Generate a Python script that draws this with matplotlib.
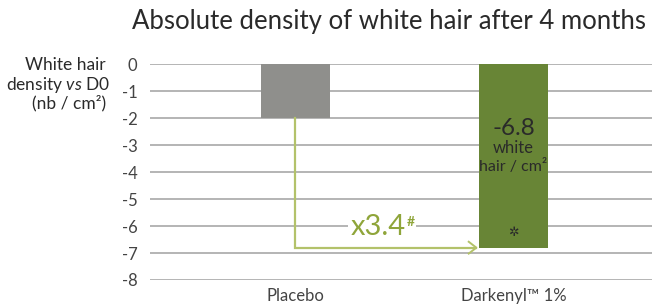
import matplotlib
matplotlib.use("Agg")
import matplotlib.pyplot as plt

categories = ["Placebo", "Darkenyl\u2122 1%"]
values = [-2.0, -6.8]
bar_colors = ["#8f8f8c", "#688536"]
yticks = [0, -1, -2, -3, -4, -5, -6, -7, -8]
ratio_label = "x3.4"

plt.rcParams['font.family'] = ['Lato', 'DejaVu Sans']
plt.rcParams['mathtext.fontset'] = 'custom'
plt.rcParams['mathtext.it'] = 'Lato:italic'
plt.rcParams['mathtext.rm'] = 'Lato'

fig = plt.figure(figsize=(6.52, 3.06), dpi=100)
ax = fig.add_axes([150/652, 26/306, 502/652, (280-64.5)/306])

x = list(range(len(categories)))
width = 0.317
ax.bar(x, values, width=width, color=bar_colors, zorder=3, align='center')

ax.set_ylim(-8, 0)
ax.set_xlim(-0.667, 1.635)
ax.set_yticks(yticks)
ax.set_yticklabels([str(v) for v in yticks], fontsize=12, color='#444444')
ax.set_xticks(x)
ax.set_xticklabels(categories, fontsize=12, color='#444444')
ax.tick_params(axis='both', length=0)
ax.tick_params(axis='y', pad=9)
ax.tick_params(axis='x', pad=6)
ax.grid(axis='y', color='#a8a8a8', lw=1.2, zorder=0)
for s in ax.spines.values():
    s.set_visible(False)

# arrow
arrow_col = '#b3c26a'
x_end = x[1] - width / 2 - 0.012
ax.plot([x[0], x[0], x_end], [values[0], values[1], values[1]], color=arrow_col, lw=1.6, zorder=4,
        solid_joinstyle='miter')
ax.plot([x_end - 0.035, x_end, x_end - 0.035], [values[1] + 0.22, values[1], values[1] - 0.22],
        color=arrow_col, lw=1.4, zorder=4)

ax.text(0.255, -6.02, ratio_label, fontsize=21, color='#8fa53a', ha='left', va='center', zorder=5,
        bbox=dict(facecolor='white', edgecolor='none', pad=2))
ax.text(0.51, -5.83, "#", fontsize=10, color='#8fa53a', ha='left', va='center', zorder=6,
        fontweight='bold', bbox=dict(facecolor='white', edgecolor='none', pad=1))

# bar annotations
ax.text(x[1], -2.39, f"{values[1]:.1f}", fontsize=17.5, color='#2a2a2a', ha='center', va='center', zorder=5)
ax.text(x[1], -3.09, "white", fontsize=12, color='#2a2a2a', ha='center', va='center', zorder=5)
ax.text(x[1], -3.8, "hair / cm\u00b2", fontsize=11.5, color='#2a2a2a', ha='center', va='center', zorder=5)
ax.text(x[1], -6.24, "\u2732", fontsize=9, color='#2a2a2a', ha='center', va='center', zorder=5,
        family=['DejaVu Sans'])

# y label
fig.text(106/652, 1 - 65/306, "White hair", fontsize=12.5, color='#2a2a2a', ha='right', va='center')
fig.text(110/652, 1 - 85/306, r"density $\it{vs}$ D0", fontsize=12.5, color='#2a2a2a', ha='right', va='center')
fig.text(106/652, 1 - 103/306, "(nb / cm\u00b2)", fontsize=12.5, color='#2a2a2a', ha='right', va='center')

fig.text(389/652, 1 - 21/306, "Absolute density of white hair after 4 months", fontsize=18.5,
         color='#2a2a2a', ha='center', va='center')

fig.savefig("out.png", dpi=100)
